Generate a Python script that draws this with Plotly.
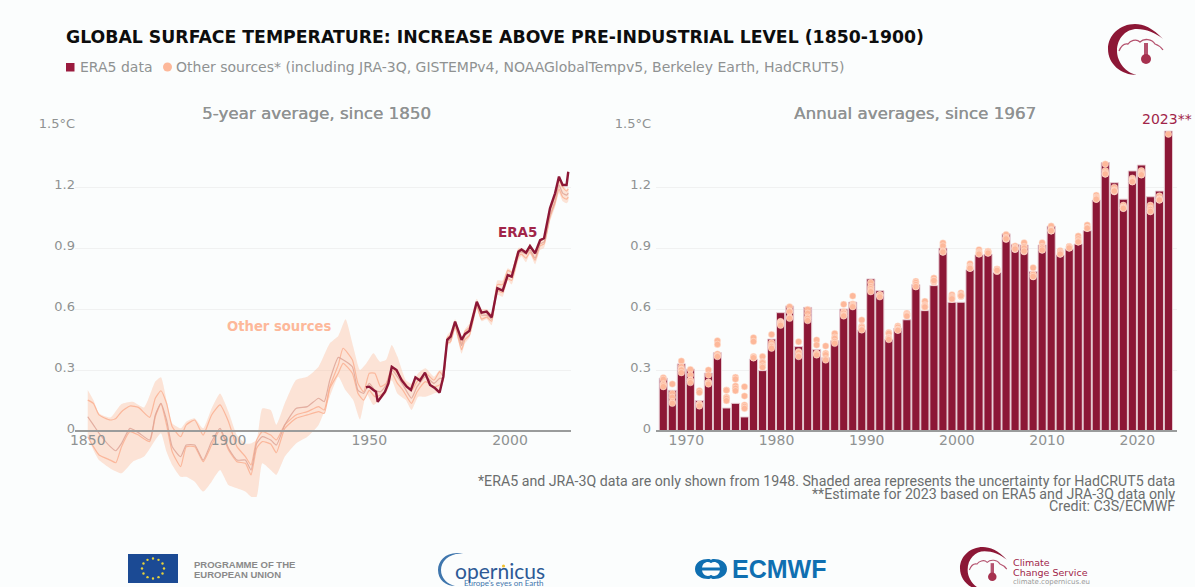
import re, math
import plotly.graph_objects as go

W, H = 1195, 587
BG = "#fbfdfd"
CRIMSON = "#8c1736"
LABEL = "#a12549"
PEACH = "#fdb89a"
GREY = "#8f9292"

# ---------- left panel: 5-year averages ----------
era5_years = [1948.8,1950,1951.5,1952.4,1953,1954.4,1955.6,1956.8,1958,1959.7,1961.5,1963.3,1964.8,1966.4,1968,1969.8,1971.6,1973.4,1975,1976.3,1977.7,1978.9,1980.5,1982.8,1984,1985.6,1988.2,1989.9,1991.7,1993.5,1995.5,1997.4,1999.2,2000.6,2003,2004.1,2005.7,2007.1,2008.9,2010.7,2012.1,2014.2,2016,2017.4,2018.7,2020.1,2020.7]
era5_5yr = [.215,.218,.202,.193,.144,.172,.193,.234,.316,.30,.25,.218,.202,.264,.248,.287,.226,.21,.189,.267,.448,.464,.538,.448,.477,.493,.636,.582,.587,.559,.702,.69,.767,.759,.882,.893,.877,.91,.874,.939,.948,1.095,1.169,1.251,1.21,1.21,1.275]

other_years = [1850,1852,1854,1858,1860,1862,1865,1868,1872,1874,1876,1878,1880,1883,1885,1888,1891,1894,1897,1900,1903,1906,1908,1910,1912,1915,1917,1920,1924,1928,1932,1934,1936,1939,1940.7,1944,1946,1948,1950,1952,1954,1956,1958,1960,1962,1965,1967,1970,1973,1975,1976.3,1977.7,1978.9,1980.5,1982.8,1984,1985.6,1988.2,1989.9,1991.7,1993.5,1995.5,1997.4,1999.2,2000.6,2003,2004.1,2005.7,2007.1,2008.9,2010.7,2012.1,2014.2,2016,2017.4,2018.7,2020.1,2020.7]
berkeley_5yr = [.152,.136,.079,.054,.062,.095,.123,.116,.067,.161,.198,.136,.021,-.028,.03,.054,-.02,.079,.128,.046,-.077,-.126,-.167,-.044,-.003,-.02,-.044,.03,.079,.095,.12,.103,.218,.325,.407,.35,.234,.193,.284,.284,.218,.234,.308,.284,.25,.2,.243,.284,.25,.292,.27,.46,.47,.53,.43,.49,.51,.63,.58,.59,.56,.72,.72,.79,.78,.89,.89,.88,.91,.87,.93,.95,1.08,1.15,1.23,1.20,1.18,1.19]
hadcrut_5yr = [.07,.03,-.011,-.077,-.097,-.061,.013,-.008,-.044,.079,.136,.054,-.077,-.126,-.069,-.069,-.143,-.052,.013,-.085,-.143,-.143,-.192,-.061,-.028,-.044,-.069,.03,.111,.12,.161,.144,.251,.362,.35,.316,.2,.185,.234,.2,.193,.226,.3,.267,.226,.161,.218,.267,.234,.259,.26,.44,.45,.52,.42,.47,.49,.62,.57,.57,.55,.70,.69,.76,.76,.87,.88,.87,.89,.85,.92,.93,1.06,1.13,1.21,1.17,1.16,1.17]
noaa_5yr = [-.028,-.077,-.118,-.143,-.156,-.077,-.003,-.02,-.052,.07,.133,.03,-.102,-.175,-.077,-.077,-.151,-.069,.005,-.093,-.151,-.159,-.216,-.085,-.052,-.064,-.107,.013,.062,.079,.095,.087,.21,.284,.333,.284,.185,.152,.2,.169,.177,.2,.284,.234,.2,.136,.193,.243,.218,.226,.25,.43,.44,.51,.40,.45,.47,.61,.55,.56,.54,.69,.68,.75,.74,.86,.87,.85,.88,.84,.91,.92,1.05,1.12,1.19,1.15,1.14,1.15]

band_years = [1850,1852,1854,1858,1862,1866,1870,1874,1876,1878,1880,1883,1885,1888,1891,1894,1897,1900,1903,1906,1908,1910,1912,1915,1917,1920,1924,1928,1932,1936,1939,1941.6,1944.3,1946.7,1949,1951.5,1953.8,1956,1958,1960,1963,1965,1967.4,1970,1973,1975,1976.3,1977.7,1978.9,1980.5,1982.8,1984,1985.6,1988.2,1989.9,1991.7,1993.5,1995.5,1997.4,1999.2,2000.6,2003,2004.1,2005.7,2007.1,2008.9,2010.7,2012.1,2014.2,2016,2017.4,2018.7,2020.1,2020.7]
band_upper = [.202,.152,.087,.066,.133,.144,.116,.243,.264,.152,.038,.013,.046,.062,.013,.111,.185,.095,-.02,-.061,-.061,-.044,.111,.103,.03,.136,.251,.267,.316,.431,.467,.549,.415,.30,.333,.382,.34,.35,.423,.366,.25,.234,.284,.308,.267,.30,.30,.47,.49,.55,.46,.50,.53,.65,.60,.60,.58,.74,.74,.80,.79,.90,.90,.89,.92,.88,.94,.96,1.09,1.16,1.24,1.21,1.19,1.20]
band_lower = [-.028,-.093,-.143,-.184,-.208,-.151,-.126,-.044,-.011,-.102,-.167,-.225,-.225,-.249,-.298,-.249,-.192,-.266,-.282,-.298,-.323,-.323,-.159,-.192,-.216,-.126,-.061,-.028,.03,.169,.267,.2,.152,.057,.185,.128,.152,.185,.25,.185,.152,.103,.169,.169,.185,.193,.24,.42,.43,.50,.38,.43,.46,.60,.54,.55,.52,.67,.66,.74,.72,.84,.86,.83,.87,.82,.89,.90,1.03,1.10,1.17,1.13,1.12,1.13]

# ---------- right panel: annual averages ----------
bar_years = list(range(1967, 2024))
era5_annual = [.26,.20,.33,.305,.15,.285,.385,.113,.136,.069,.354,.297,.452,.582,.615,.415,.608,.40,.36,.444,.60,.634,.497,.748,.69,.45,.505,.547,.72,.592,.715,.90,.633,.633,.793,.867,.87,.78,.97,.918,.915,.784,.915,1.008,.866,.895,.92,.985,1.136,1.32,1.221,1.14,1.279,1.308,1.152,1.18,1.475]
jra3q_annual = [.262,.231,.344,.303,.198,.30,.444,.202,.264,.218,.459,.366,.475,.538,.611,.439,.598,.448,.418,.48,.623,.664,.546,.73,.669,.484,.516,.579,.736,.638,.752,.925,.67,.679,.823,.892,.884,.797,.967,.91,.926,.803,.926,1.008,.887,.907,.959,1.013,1.16,1.313,1.198,1.11,1.243,1.28,1.11,1.156,1.46]
gistemp_annual = [.254,.185,.316,.275,.189,.275,.426,.2,.255,.172,.44,.34,.434,.535,.59,.39,.579,.423,.382,.461,.587,.625,.515,.71,.669,.48,.51,.575,.73,.62,.74,.91,.66,.668,.81,.88,.884,.79,.95,.90,.907,.77,.907,.99,.88,.907,.945,1.0,1.15,1.28,1.185,1.10,1.235,1.27,1.095,1.14,None]
noaa_annual = [.232,.166,.303,.25,.133,.24,.379,.166,.221,.128,.366,.336,.42,.53,.587,.385,.56,.382,.375,.455,.58,.62,.51,.70,.665,.46,.50,.57,.71,.608,.731,.88,.648,.662,.80,.872,.875,.785,.943,.893,.882,.759,.89,.984,.87,.90,.93,.997,1.14,1.264,1.177,1.095,1.226,1.26,1.079,1.136,None]
berkeley_annual = [.226,.144,.3,.248,.13,.238,.37,.16,.21,.12,.36,.32,.415,.526,.56,.37,.554,.38,.355,.44,.57,.615,.50,.69,.67,.456,.497,.567,.72,.615,.735,.885,.655,.67,.805,.875,.88,.795,.95,.90,.90,.77,.90,.985,.875,.905,.935,1.0,1.145,1.27,1.18,1.10,1.23,1.265,1.09,1.14,None]
hadcrut_annual = [.218,.136,.287,.238,.123,.231,.366,.149,.198,.111,.36,.313,.407,.52,.554,.366,.543,.374,.349,.431,.566,.611,.497,.685,.66,.45,.495,.565,.71,.61,.74,.88,.65,.665,.80,.87,.875,.79,.945,.895,.885,.76,.89,.985,.87,.90,.93,.997,1.14,1.264,1.18,1.095,1.226,1.26,1.08,1.136,None]

left_xticks = [1850, 1900, 1950, 2000]
right_xtick_labels = ["1970", "1980", "1990", "2000", "2010", "2020"]
right_xtick_vals = [1969.55, 1979.55, 1989.55, 1999.55, 2009.55, 2019.55]
y_ticks = [0, .3, .6, .9, 1.2, 1.5]
y_labels = ["0", "0.3", "0.6", "0.9", "1.2", "1.5°C"]

fig = go.Figure()

def px(x): return x / W
def py(y): return 1 - y / H

# shaded band
fig.add_trace(go.Scatter(x=band_years + band_years[::-1], y=band_upper + band_lower[::-1],
    mode="lines", fill="toself", fillcolor="rgba(252,190,160,0.42)",
    line=dict(width=0, shape="spline", smoothing=0.5),
    name="HadCRUT5 uncertainty", hoverinfo="skip", xaxis="x", yaxis="y"))
for name, vals, color in [("Berkeley Earth", berkeley_5yr, "rgba(250,175,145,0.85)"),
                          ("NOAAGlobalTempv5", noaa_5yr, "rgba(250,175,145,0.85)"),
                          ("HadCRUT5", hadcrut_5yr, "rgba(222,165,150,0.85)")]:
    fig.add_trace(go.Scatter(x=other_years, y=vals, mode="lines", name=name,
        line=dict(color=color, width=1.2, shape="spline", smoothing=0.5), xaxis="x", yaxis="y"))
fig.add_trace(go.Scatter(x=era5_years, y=era5_5yr, mode="lines", name="ERA5",
    line=dict(color=CRIMSON, width=2.4), xaxis="x", yaxis="y"))

# bars and dots
fig.add_trace(go.Bar(x=bar_years, y=era5_annual, name="ERA5 data", width=0.9,
    marker=dict(color=CRIMSON, line=dict(color="rgba(232,205,212,0.95)", width=1)),
    xaxis="x2", yaxis="y2"))
for name, vals in [("JRA-3Q", jra3q_annual), ("GISTEMPv4", gistemp_annual),
                   ("NOAAGlobalTempv5", noaa_annual), ("Berkeley Earth", berkeley_annual),
                   ("HadCRUT5", hadcrut_annual)]:
    fig.add_trace(go.Scatter(x=bar_years, y=vals, mode="markers", name=name, cliponaxis=False,
        marker=dict(color=PEACH, size=6.5, line=dict(color="rgba(255,235,225,0.8)", width=0.6)),
        xaxis="x2", yaxis="y2"))

axis_font = dict(family="DejaVu Sans", size=14, color=GREY)
yaxis_font = dict(family="DejaVu Sans", size=13, color=GREY)
xcommon = dict(anchor="free", position=py(431), showgrid=False, zeroline=False, showline=True,
               linecolor="#9a9c9c", linewidth=1.5, ticks="", tickfont=axis_font, ticklabelstandoff=-4)
ycommon = dict(tickvals=y_ticks, ticktext=y_labels, showgrid=True, gridcolor="#f0f1f1", gridwidth=1,
               zeroline=False, showline=False, ticks="", tickfont=yaxis_font, ticklabelshift=-3)
PX_PER_UNIT = (431 - 126) / 1.5

def note(text, x, y, size, color, anchor="center", family="DejaVu Sans", bold=False, **fontkw):
    return dict(text=("<b>%s</b>" % text) if bold else text, x=px(x), y=py(y), xref="paper", yref="paper",
                xanchor=anchor, yanchor="middle", showarrow=False, borderpad=0,
                font=dict(family=family, size=size, color=color, **fontkw))

SEMI = "0.35px 0 0 " + GREY
FOOT = "#6b6e6e"
annotations = [
    note("GLOBAL SURFACE TEMPERATURE: INCREASE ABOVE PRE-INDUSTRIAL LEVEL (1850-1900)", 65, 37, 17.3, "#0d0d0d", "left", bold=True),
    note("ERA5 data", 79, 67, 14, GREY, "left"),
    note("Other sources* (including JRA-3Q, GISTEMPv4, NOAAGlobalTempv5, Berkeley Earth, HadCRUT5)", 175, 67, 14, GREY, "left"),
    note("5-year average, since 1850", 316, 113, 16.7, GREY, shadow=SEMI),
    note("Annual averages, since 1967", 915, 113, 16.7, GREY, shadow=SEMI),
    note("ERA5", 517, 232, 13.5, LABEL, bold=True),
    note("Other sources", 279, 326, 13.2, PEACH, bold=True),
    note("2023**", 1167, 119, 14, LABEL),
    note("*ERA5 and JRA-3Q data are only shown from 1948. Shaded area represents the uncertainty for HadCRUT5 data", 1176, 481, 14.2, FOOT, "right", "Roboto"),
    note("**Estimate for 2023 based on ERA5 and JRA-3Q data only", 1176, 494, 14.2, FOOT, "right", "Roboto"),
    note("Credit: C3S/ECMWF", 1176, 506, 14.2, FOOT, "right", "Roboto"),
    note("PROGRAMME OF THE", 193, 564, 9.5, "#8a8a8a", "left", "Liberation Sans", True),
    note("EUROPEAN UNION", 193, 574, 9.5, "#8a8a8a", "left", "Liberation Sans", True),
    note("opernicus", 454, 570, 21, "#2d5a96", "left", "Lato"),
    note("Europe's eyes on Earth", 545, 583, 8, "#3f76ad", "right", "Lato"),
    note("ECMWF", 731, 569, 25, "#0f6fb1", "left", "Liberation Sans", True),
    note("Climate", 1012, 562, 9.5, LABEL, "left"),
    note("Change Service", 1012, 572, 9.5, LABEL, "left"),
    note("climate.copernicus.eu", 1012, 582, 7, "#999999", "left"),
]

def path(d, ox=0, oy=0, s=1):
    def rep(m):
        return "%.5f,%.5f" % (px(ox + s * float(m.group(1))), py(oy + s * float(m.group(2))))
    return re.sub(r"(-?[\d.]+),(-?[\d.]+)", rep, d)

def circle(cx, cy, r, fill, ox=0, oy=0, s=1):
    x0, x1 = px(ox + s * (cx - r)), px(ox + s * (cx + r))
    y0, y1 = py(oy + s * (cy - r)), py(oy + s * (cy + r))
    return dict(type="circle", xref="paper", yref="paper", x0=x0, x1=x1, y0=y0, y1=y1, fillcolor=fill, line_width=0, layer="above")

def ccs_logo(ox, oy, s, lw):
    out = [dict(type="path", xref="paper", yref="paper", fillcolor=CRIMSON, line_width=0,
                path=path("M55,15 C45,4 35,0 27,0 C12,0 0,11 0,25 C0,40 13,51 29,51 C18,49 9,38 9,27 C9,14 18,5 29,5 C38,5 48,9 55,15 Z", ox, oy, s)),
           dict(type="path", xref="paper", yref="paper", line=dict(color="#b5536f", width=lw),
                path=path("M11,27 C13,22 16,19 20,20 C22,17 28,14 32,18 C36,14 44,15 47,20 C50,21 53,23 55,26", ox, oy, s)),
           dict(type="path", xref="paper", yref="paper", line=dict(color="#b5536f", width=4 * s),
                path=path("M38,19 L38,34", ox, oy, s)),
           circle(38, 35, 5, "#a6314f", ox, oy, s)]
    return out

shapes = [
    dict(type="rect", xref="paper", yref="paper", x0=px(66), x1=px(74.5), y0=py(71.5), y1=py(63), fillcolor="#9a1b3e", line_width=0),
    circle(167.5, 67, 4.5, PEACH),
    # EU flag
    dict(type="rect", xref="paper", yref="paper", x0=px(128), x1=px(178), y0=py(583), y1=py(554), fillcolor="#1b4a94", line_width=0),
]
for k in range(12):
    a = k * math.pi / 6
    shapes.append(circle(153 + 11 * math.cos(a), 568.5 + 10 * math.sin(a), 1.2, "#e8d23a"))
shapes += [
    # Copernicus arc
    dict(type="path", xref="paper", yref="paper", fillcolor="#3f76ad", line_width=0,
         path=path("M464,554 C448,550 438,560 438,570 C438,580 446,586 455,586 C447,584 441,578 441,570 C441,561 450,552 464,554 Z")),
    circle(503.5, 566, 1.6, "#f2c230"),
    # ECMWF symbol
    dict(type="path", xref="paper", yref="paper", fillcolor="#0f6fb1", line_width=0,
         path=path("M695,569 C695,562 702,559 708,559 C711,559 713,561 711,563 C708,561 702,562 702,569 C702,576 708,577 711,575 C713,577 711,579 708,579 C702,579 695,576 695,569 Z")),
    dict(type="path", xref="paper", yref="paper", fillcolor="#0f6fb1", line_width=0,
         path=path("M727,569 C727,562 720,559 714,559 C711,559 709,561 711,563 C714,561 720,562 720,569 C720,576 714,577 711,575 C709,577 711,579 714,579 C720,579 727,576 727,569 Z")),
    dict(type="line", xref="paper", yref="paper", x0=px(696), x1=px(726), y0=py(569), y1=py(569), line=dict(color="#0f6fb1", width=3)),
]
shapes += ccs_logo(1108, 24, 1, 1.3)
shapes += ccs_logo(960, 547, 0.85, 1.1)

fig.update_layout(
    width=W, height=H, autosize=False, margin=dict(l=0, r=0, t=0, b=0, pad=0, autoexpand=False),
    paper_bgcolor=BG, plot_bgcolor=BG, showlegend=False, barmode="overlay",
    font=dict(family="DejaVu Sans"),
    xaxis=dict(domain=[px(75), px(571)], range=[2000 + (75 - 510) / 2.815, 2000 + (571 - 510) / 2.815],
               tickvals=left_xticks, ticktext=[str(v) for v in left_xticks], **xcommon),
    yaxis=dict(domain=[py(512), py(126)], range=[-(512 - 431) / PX_PER_UNIT, 1.5], anchor="x", ticklabelstandoff=-1, **ycommon),
    xaxis2=dict(domain=[px(656), px(1177)], range=[1966.19, 2023.95],
                tickvals=right_xtick_vals, ticktext=right_xtick_labels, **xcommon),
    yaxis2=dict(domain=[py(431), py(126)], range=[0, 1.5], anchor="x2", ticklabelstandoff=4, **ycommon),
    annotations=annotations, shapes=shapes,
)

fig.write_html("out.html", config=dict(displayModeBar=False),
               post_script="document.body.style.margin='0';document.body.style.background='%s';" % BG)
